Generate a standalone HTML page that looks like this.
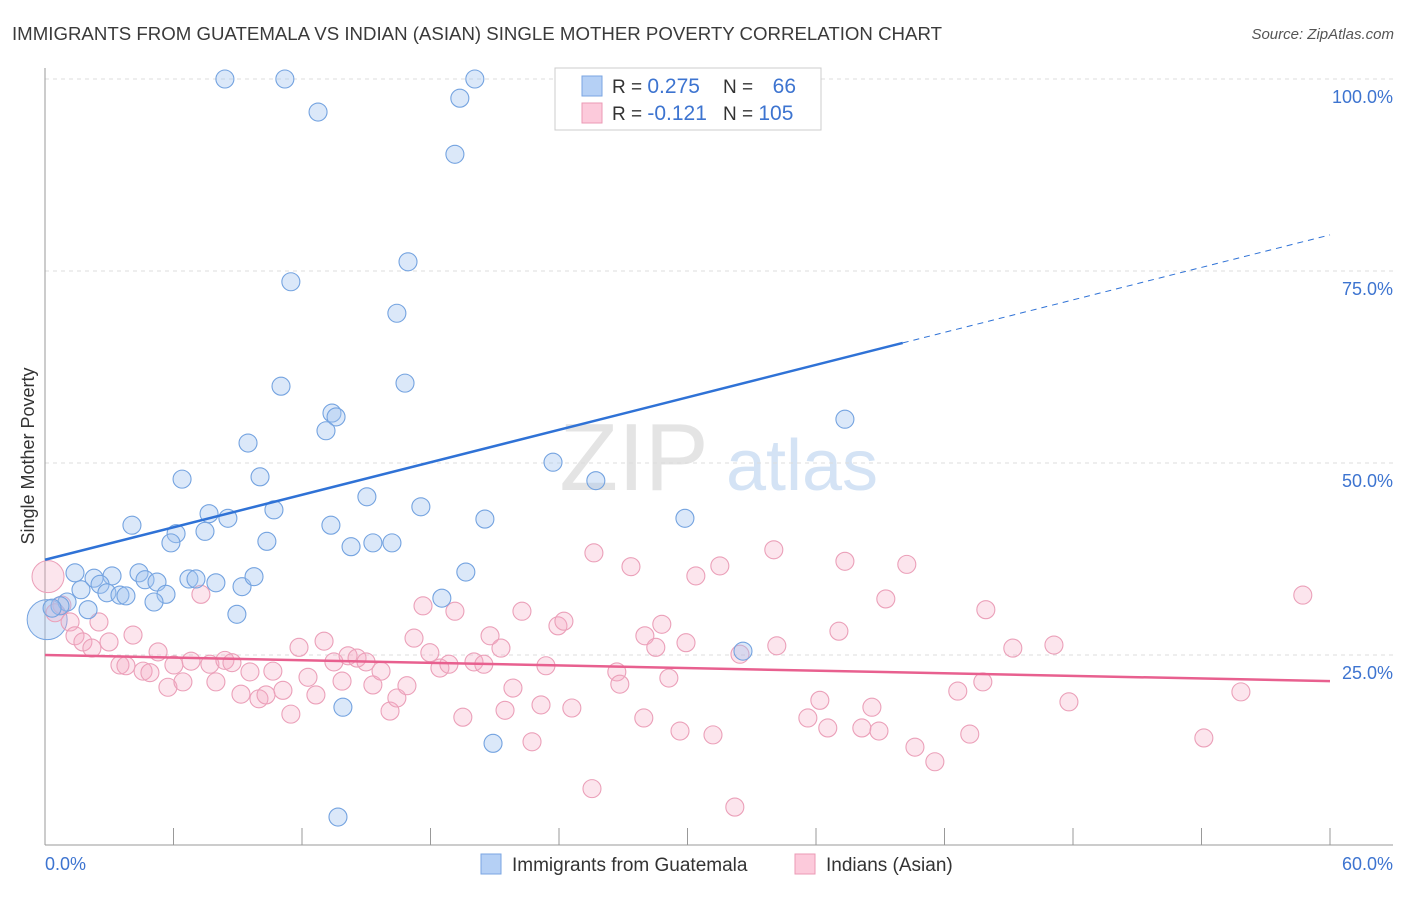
<!DOCTYPE html>
<html><head><meta charset="utf-8">
<style>
body{margin:0;background:#fff;font-family:"Liberation Sans",sans-serif;}
svg text{font-family:"Liberation Sans",sans-serif;}
</style></head>
<body>
<svg id="chart" width="1406" height="892" xmlns="http://www.w3.org/2000/svg">
<text x="12" y="40" font-size="18" fill="#3a3a3a" textLength="930" lengthAdjust="spacingAndGlyphs">IMMIGRANTS FROM GUATEMALA VS INDIAN (ASIAN) SINGLE MOTHER POVERTY CORRELATION CHART</text>
<text x="1394" y="39" font-size="15" fill="#555" text-anchor="end" font-style="italic">Source: ZipAtlas.com</text>
<g>
<text x="634" y="490" font-size="96" fill="#e4e4e4" font-family="Liberation Serif" text-anchor="middle">ZIP</text>
<text x="802" y="490" font-size="72" fill="#d4e3f5" text-anchor="middle">atlas</text>
</g>
<g id="grid"></g>
<g id="axes"></g>
<g id="pts"></g>
<g id="trends"></g>
<text transform="translate(34,456) rotate(-90)" font-size="18" fill="#333" text-anchor="middle">Single Mother Poverty</text>
<g>
<rect x="555" y="68" width="266" height="62" fill="#fff" stroke="#ccc"/>
<rect x="582" y="76" width="20" height="20" fill="#b5d0f5" stroke="#7aa5e2"/>
<rect x="582" y="103" width="20" height="20" fill="#fccadb" stroke="#eb9ab5"/>
<text x="612" y="93" font-size="19" fill="#333">R = <tspan fill="#3d74d0" font-size="21">0.275</tspan></text>
<text x="723" y="93" font-size="19" fill="#333">N = </text>
<text x="796" y="93" font-size="21" fill="#3d74d0" text-anchor="end">66</text>
<text x="612" y="120" font-size="19" fill="#333">R = <tspan fill="#3d74d0" font-size="21">-0.121</tspan></text>
<text x="723" y="120" font-size="19" fill="#333">N = <tspan fill="#3d74d0" font-size="21">105</tspan></text>
</g>
<g>
<rect x="481" y="854" width="20" height="20" fill="#b5d0f5" stroke="#7aa5e2"/>
<text x="512" y="871" font-size="19" fill="#333">Immigrants from Guatemala</text>
<rect x="795" y="854" width="20" height="20" fill="#fccadb" stroke="#eb9ab5"/>
<text x="826" y="871" font-size="19" fill="#333">Indians (Asian)</text>
</g>
</svg>
<script>
const blueX=[8.4,11.2,20.07,19.37,12.75,19.14,16.95,11.48,16.43,16.81,11.02,13.4,13.59,37.35,9.48,13.12,23.72,6.4,10.04,25.72,15.03,17.55,10.69,7.66,8.54,20.54,29.88,4.06,13.35,6.12,5.88,7.47,10.36,14.29,15.31,16.2,19.65,1.4,2.29,3.13,4.39,4.67,5.23,6.72,7.05,7.98,9.2,9.76,2.57,1.68,2.89,3.5,3.78,5.65,5.09,18.53,1.03,0.7,0.33,2.01,8.96,32.59,13.91,20.92,13.68];
const blueY=[100,100,100,97.5,95.7,90.2,76.2,73.6,69.5,60.4,60.0,56.5,56.0,55.7,52.6,54.2,50.1,47.9,48.2,47.7,45.6,44.3,43.9,43.4,42.8,42.7,42.8,41.9,41.9,40.8,39.6,41.1,39.8,39.1,39.6,39.6,35.8,35.7,35.0,35.3,35.7,34.8,34.5,34.9,34.9,34.4,33.9,35.2,34.2,33.5,33.1,32.8,32.7,32.9,31.9,32.4,31.9,31.4,31.1,30.9,30.3,25.5,18.2,13.5,3.9];
const pinkX=[0.79,0.47,1.17,2.52,1.4,1.77,2.19,2.99,4.11,3.5,3.78,5.28,4.58,4.9,6.02,5.74,6.44,6.82,7.28,7.7,7.98,8.4,8.73,9.15,9.57,9.99,10.32,10.64,11.11,11.48,11.86,12.28,12.65,13.03,13.49,13.87,14.15,14.57,14.99,15.31,15.69,16.11,16.43,16.9,17.23,17.65,17.97,18.44,18.86,19.14,19.51,20.03,20.49,20.78,21.29,21.48,21.85,22.27,22.74,23.16,23.39,23.95,24.23,24.6,25.63,25.54,26.7,26.84,27.36,27.96,28.01,28.52,28.8,29.13,29.65,29.93,30.39,31.19,31.51,32.21,32.45,34.03,34.17,35.62,36.18,36.55,37.07,37.35,38.14,38.61,38.94,39.26,40.24,40.62,41.55,42.62,43.18,43.79,43.93,45.19,47.11,47.81,54.11,55.84,58.73];
const pinkY=[31.5,30.5,29.3,29.3,27.5,26.7,25.9,26.7,27.6,23.7,23.6,25.4,22.9,22.7,23.7,20.8,21.5,24.2,32.9,23.8,21.5,24.3,24.0,19.9,22.8,19.3,19.8,22.9,20.4,17.3,26.0,22.1,19.8,26.8,24.1,21.6,24.9,24.6,24.1,21.1,22.9,17.7,19.4,21.0,27.2,31.4,25.3,23.3,23.8,30.7,16.9,24.1,23.8,27.5,25.9,17.8,20.7,30.7,13.7,18.5,23.6,28.8,29.4,18.1,38.3,7.6,22.8,21.2,36.5,16.8,27.5,26.0,29.0,22.0,15.1,26.6,35.3,14.6,36.6,5.2,25.1,38.7,26.2,16.8,19.1,15.5,28.1,37.2,15.5,18.2,15.1,32.3,36.8,13.0,11.1,20.3,14.7,21.5,30.9,25.9,26.3,18.9,14.2,20.2,32.8];
const bigBlue=[0.1,29.6], bigPink=[0.14,35.2];
const blueTrend=[37.4,79.7], blueSolidEnd=40.05, pinkTrend=[25.0,21.6];
const yTicks=[25,50,75,100];
const yTickLabels=["25.0%","50.0%","75.0%","100.0%"];
const xTicks=[0,6,12,18,24,30,36,42,48,54,60];

const NS="http://www.w3.org/2000/svg";
const X=v=>45+v*1285/60, Y=v=>847-v*7.68;
function mk(tag,attrs,parent){const e=document.createElementNS(NS,tag);for(const k in attrs)e.setAttribute(k,attrs[k]);parent.appendChild(e);return e;}
const grid=document.getElementById('grid'),axes=document.getElementById('axes'),pts=document.getElementById('pts'),tr=document.getElementById('trends');
yTicks.forEach((t,i)=>{
 const l=mk('line',{x1:45,x2:1393,y1:Y(t),y2:Y(t),stroke:'#ddd','stroke-dasharray':'4,4'},grid);
 
 
 const tx=mk('text',{x:1393,y:Y(t)+24,'font-size':18,fill:'#3d74d0','text-anchor':'end'},axes);
 tx.textContent=yTickLabels[i];
 
 
});
const ya=mk('line',{x1:45,x2:45,y1:68,y2:845,stroke:'#999'},axes);


const xa=mk('line',{x1:45,x2:1393,y1:845,y2:845,stroke:'#999'},axes);


xTicks.forEach(t=>{const l=mk('line',{x1:X(t),x2:X(t),y1:828,y2:845,stroke:'#999'},axes);
 
 });
const xl0=mk('text',{x:45,y:870,'font-size':18,fill:'#3d74d0'},axes);xl0.textContent='0.0%';


const xl1=mk('text',{x:1393,y:870,'font-size':18,fill:'#3d74d0','text-anchor':'end'},axes);xl1.textContent='60.0%';



function dot(x,y,r,blue){const c=mk('circle',{cx:X(x),cy:Y(y),r:r,fill:blue?'rgba(160,195,240,0.38)':'rgba(245,170,195,0.3)',stroke:blue?'#74a3e0':'#eba0b9','stroke-width':1.1},pts);
 
 }
mk('circle',{cx:X(bigBlue[0]),cy:Y(bigBlue[1]),r:20,fill:'rgba(160,195,240,0.38)',stroke:'#74a3e0'},pts);
mk('circle',{cx:X(bigPink[0]),cy:Y(bigPink[1]),r:16,fill:'rgba(245,170,195,0.3)',stroke:'#eba0b9'},pts);
pinkX.forEach((x,i)=>dot(x,pinkY[i],9,false));
blueX.forEach((x,i)=>dot(x,blueY[i],9,true));
const by=x=>blueTrend[0]+(blueTrend[1]-blueTrend[0])*x/60;
const b1=mk('line',{x1:X(0),y1:Y(by(0)),x2:X(blueSolidEnd),y2:Y(by(blueSolidEnd)),stroke:'#2f72d6','stroke-width':2.5},tr);


const b2=mk('line',{x1:X(blueSolidEnd),y1:Y(by(blueSolidEnd)),x2:X(60),y2:Y(by(60)),stroke:'#2f72d6','stroke-width':1,'stroke-dasharray':'6,5'},tr);


const p1=mk('line',{x1:X(0),y1:Y(pinkTrend[0]),x2:X(60),y2:Y(pinkTrend[1]),stroke:'#e8608f','stroke-width':2.5},tr);


</script>
</body></html>
